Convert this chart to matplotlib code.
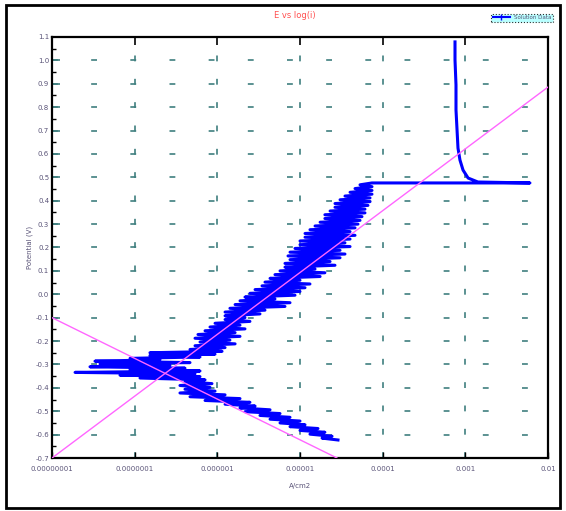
import matplotlib.pyplot as plt
from matplotlib.patches import Rectangle
from matplotlib.lines import Line2D

cath_i = [2.88e-5, 1.85e-5, 2.44e-5, 1.32e-5, 2.00e-5, 1.00e-5, 1.65e-5, 7.57e-6,
          1.15e-5, 5.73e-6, 1.00e-5, 4.34e-6, 7.57e-6, 3.28e-6, 5.73e-6, 2.16e-6,
          4.34e-6, 1.88e-6, 2.86e-6, 1.24e-6, 2.48e-6, 7.10e-7, 1.88e-6, 4.67e-7,
          1.24e-6, 3.53e-7, 9.38e-7, 4.06e-7, 8.15e-7, 3.53e-7, 8.61e-7, 4.06e-7,
          7.10e-7]
cath_E = [-0.623, -0.615, -0.607, -0.598, -0.590, -0.582, -0.574, -0.566,
          -0.558, -0.550, -0.542, -0.534, -0.526, -0.518, -0.510, -0.502,
          -0.494, -0.486, -0.478, -0.470, -0.462, -0.454, -0.446, -0.438,
          -0.430, -0.422, -0.414, -0.406, -0.398, -0.390, -0.382, -0.374,
          -0.366]

knot_i = [1.16e-7, 6.17e-7, 6.65e-8, 5.37e-7, 1.90e-8, 6.17e-7, 8.79e-8, 4.06e-7,
          2.88e-8, 2.67e-7, 3.81e-8, 4.67e-7, 3.31e-8, 2.02e-7, 8.79e-8, 6.17e-7,
          1.53e-7, 9.38e-7, 1.53e-7, 1.14e-6, 4.67e-7, 1.24e-6]
knot_E = [-0.358, -0.352, -0.346, -0.340, -0.334, -0.328, -0.322, -0.316,
          -0.310, -0.304, -0.298, -0.292, -0.286, -0.280, -0.274, -0.268,
          -0.262, -0.256, -0.250, -0.244, -0.236, -0.228]

anod_i = [5.37e-7, 1.64e-6, 6.17e-7, 1.42e-6, 5.37e-7, 1.88e-6, 5.83e-7, 1.64e-6,
          7.10e-7, 2.16e-6, 8.15e-7, 1.88e-6, 9.38e-7, 2.48e-6, 1.24e-6, 2.16e-6,
          1.24e-6, 3.28e-6, 1.24e-6, 3.77e-6, 1.42e-6, 6.58e-6, 1.64e-6, 7.57e-6,
          1.88e-6, 4.98e-6, 2.16e-6, 8.70e-6, 2.48e-6, 1.00e-5, 2.86e-6, 1.15e-5,
          3.47e-6, 1.32e-5, 3.77e-6, 1.00e-5, 4.34e-6, 1.75e-5, 4.98e-6, 2.00e-5,
          5.73e-6, 1.52e-5, 6.58e-6, 2.65e-5, 6.58e-6, 2.31e-5, 7.57e-6, 3.05e-5,
          7.16e-6, 3.50e-5, 7.57e-6, 3.05e-5, 8.70e-6, 4.03e-5, 1.00e-5, 3.50e-5,
          1.00e-5, 4.03e-5, 1.15e-5, 4.63e-5, 1.15e-5, 4.03e-5, 1.32e-5, 4.63e-5,
          1.52e-5, 5.03e-5, 1.75e-5, 5.32e-5, 2.00e-5, 5.62e-5, 2.00e-5, 6.11e-5,
          2.31e-5, 6.11e-5, 2.65e-5, 6.64e-5, 2.65e-5, 7.03e-5, 3.05e-5, 7.03e-5,
          3.50e-5, 7.43e-5, 4.03e-5, 7.43e-5, 4.63e-5, 7.43e-5, 5.32e-5, 7.43e-5]
anod_E = [-0.220, -0.212, -0.204, -0.196, -0.188, -0.180, -0.172, -0.164,
          -0.156, -0.148, -0.140, -0.132, -0.124, -0.116, -0.108, -0.100,
          -0.092, -0.084, -0.076, -0.068, -0.060, -0.052, -0.044, -0.036,
          -0.028, -0.020, -0.012, -0.004, 0.004, 0.012, 0.020, 0.028,
          0.036, 0.044, 0.052, 0.060, 0.068, 0.076, 0.084, 0.092,
          0.100, 0.108, 0.116, 0.124, 0.132, 0.140, 0.148, 0.156,
          0.164, 0.172, 0.180, 0.188, 0.196, 0.204, 0.212, 0.220,
          0.228, 0.236, 0.244, 0.252, 0.260, 0.268, 0.276, 0.284,
          0.292, 0.300, 0.308, 0.316, 0.324, 0.332, 0.340, 0.348,
          0.356, 0.364, 0.372, 0.380, 0.388, 0.396, 0.404, 0.412,
          0.420, 0.428, 0.436, 0.444, 0.452, 0.460, 0.468, 0.476]

pass_i = [6.05e-3, 1.42e-3, 1.08e-3, 9.38e-4, 8.61e-4, 8.15e-4, 7.93e-4, 7.71e-4,
          7.71e-4, 7.50e-4, 7.50e-4]
pass_E = [0.476, 0.480, 0.497, 0.531, 0.574, 0.625, 0.702, 0.788,
          0.895, 1.002, 1.079]

# tafel fit lines
anodic_i = [1e-8, 1e-2]
anodic_E = [-0.70, 0.886]
cathodic_i = [1e-8, 2.8e-5]
cathodic_E = [-0.10, -0.70]

x_ticks = [1e-8, 1e-7, 1e-6, 1e-5, 1e-4, 1e-3, 1e-2]
x_labels = ["0.00000001", "0.0000001", "0.000001", "0.00001", "0.0001", "0.001", "0.01"]
y_ticks = [round(-0.7 + 0.1 * k, 1) for k in range(19)]

teal = "#3f7f7f"
label_col = "#5a5478"

current = cath_i + knot_i + anod_i + pass_i
potential = cath_E + knot_E + anod_E + pass_E

fig = plt.figure(figsize=(5.66, 5.11), dpi=100)
fig.patches.append(Rectangle((6 / 566, 3 / 511), 554 / 566, 503 / 511, transform=fig.transFigure,
                             fill=False, edgecolor="black", linewidth=2))
ax = fig.add_axes([52 / 566, 53 / 511, 496 / 566, 421 / 511])

ax.set_xscale("log")
ax.set_xlim(1e-8, 1e-2)
ax.set_ylim(-0.7, 1.1)

# grid (sparse dashes)
for y in y_ticks[1:-1]:
    ax.axhline(y, color=teal, lw=1.2, dashes=(3.5, 20), zorder=1)
for x in x_ticks[1:-1]:
    ax.axvline(x, color=teal, lw=1.2, dashes=(3.5, 10.5), zorder=1)

ax.plot(anodic_i, anodic_E, color="#ff66ff", lw=1, zorder=3)
ax.plot(cathodic_i, cathodic_E, color="#ff66ff", lw=1, zorder=3)
ax.plot(current, potential, color="#0000ff", lw=2.2, zorder=2)

ax.set_xticks(x_ticks)
ax.set_xticklabels(x_labels)
ax.xaxis.set_minor_locator(plt.NullLocator())
ax.set_yticks(y_ticks)
ax.set_yticklabels([f"{v:.1f}" for v in y_ticks])
ax.set_yticks([v + 0.05 for v in y_ticks[:-1]], minor=True)

ax.tick_params(axis="x", which="major", direction="in", length=4, width=1,
               color="black", labelsize=5, labelcolor=label_col, pad=6, top=True)
ax.tick_params(axis="y", which="major", direction="in", length=6, width=1.2,
               color=teal, labelsize=5, labelcolor=label_col, pad=2)
ax.tick_params(axis="y", which="minor", direction="in", length=3, width=1, color="black")
for t in ax.xaxis.get_ticklines()[1::2]:
    t.set_color(teal)
    t.set_markersize(6)
    t.set_markeredgewidth(1.2)

for s in ax.spines.values():
    s.set_linewidth(1.6)

ax.set_xlabel("A/cm2", fontsize=5, color=label_col, labelpad=8)
ax.set_ylabel("Potential (V)", fontsize=5, color=label_col, labelpad=2)
fig.text(295 / 566, 1 - 15 / 511, "E vs log(i)", fontsize=6, color="#ff5050",
         ha="center", va="center")

handle = Line2D([], [], color="#0000ff", lw=1.5, marker="|", markersize=4)
leg = fig.legend([handle], ["Solution Data"], loc="upper right",
                 bbox_to_anchor=(556 / 566, 1 - 11 / 511), fontsize=4,
                 frameon=True, fancybox=False, borderpad=0.3, handlelength=3,
                 labelcolor=label_col)
leg.get_frame().set_facecolor("#a8ffff")
leg.get_frame().set_edgecolor("black")
leg.get_frame().set_linestyle(":")
leg.get_frame().set_linewidth(0.8)

fig.savefig("out.png", dpi=100)
